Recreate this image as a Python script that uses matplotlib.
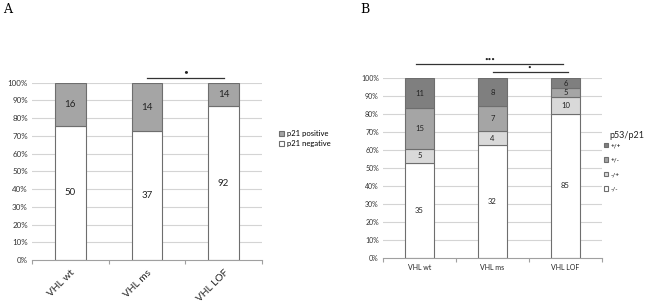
import matplotlib
matplotlib.use("Agg")
import matplotlib.pyplot as plt
import numpy as np

plt.rcParams['font.family'] = ['Lato', 'DejaVu Sans']

# ---- data ----
cats = ["VHL wt", "VHL ms", "VHL LOF"]
a_neg = [50, 37, 92]
a_pos = [16, 14, 14]

b_mm = [35, 32, 85]   # -/-
b_mp = [5, 4, 10]     # -/+
b_pm = [15, 7, 5]     # +/-
b_pp = [11, 8, 6]     # +/+
b_labels = ["-/-", "-/+", "+/-", "+/+"]
yticks = list(range(0, 101, 10))

W, H = 650, 307
fig = plt.figure(figsize=(W / 100, H / 100), dpi=100)

def px_axes(l, r, t, b):
    return fig.add_axes([l / W, 1 - b / H, (r - l) / W, (b - t) / H])

EDGE = "#6e6e6e"
GRID = "#d4d4d4"

def style(ax, fs):
    ax.set_xlim(-0.5, 2.5)
    ax.set_ylim(0, 100)
    ax.set_yticks(yticks)
    ax.set_yticklabels([f"{v}%" for v in yticks], fontsize=fs, color="#333333")
    for y in yticks[1:]:
        ax.axhline(y, color=GRID, lw=0.8, zorder=0)
    for s in ["left", "right", "top"]:
        ax.spines[s].set_visible(False)
    ax.spines["bottom"].set_color("#a0a0a0")
    ax.spines["bottom"].set_linewidth(0.8)
    ax.tick_params(axis="y", length=0, pad=3)
    ax.set_xticks([-0.5, 0.5, 1.5, 2.5], minor=True)
    ax.tick_params(axis="x", which="minor", length=3, color="#a0a0a0", width=0.8)
    ax.tick_params(axis="x", which="major", length=0)

# ---- Panel A ----
axA = px_axes(32, 262, 82.7, 260)
x = np.arange(len(cats))
tot_a = np.array(a_neg) + np.array(a_pos)
neg_p = np.array(a_neg) / tot_a * 100
pos_p = np.array(a_pos) / tot_a * 100
bw = 0.4
axA.bar(x, neg_p, bw, color="white", edgecolor=EDGE, lw=0.8, zorder=2, label="p21 negative")
axA.bar(x, pos_p, bw, bottom=neg_p, color="#a5a5a5", edgecolor=EDGE, lw=0.8, zorder=2, label="p21 positive")
for i in range(len(cats)):
    axA.text(x[i], neg_p[i] / 2, str(a_neg[i]), ha="center", va="center", fontsize=7, color="#222222")
    axA.text(x[i], neg_p[i] + pos_p[i] / 2, str(a_pos[i]), ha="center", va="center", fontsize=7, color="#222222")
style(axA, 5.8)
axA.set_xticks(x)
axA.set_xticklabels(cats, rotation=45, ha="right", rotation_mode="anchor", fontsize=7.3, color="#222222")
axA.tick_params(axis="x", which="major", pad=6)
axA.plot([1, 2], [102.6, 102.6], color="#333333", lw=0.9, clip_on=False)
axA.text(1.5, 106.0, "•", ha="center", va="center", fontsize=6, color="#222222")
hA, lA = axA.get_legend_handles_labels()
fig.legend(hA[::-1], lA[::-1], loc="upper left", bbox_to_anchor=(279 / W, 1 - 130 / H),
           frameon=False, fontsize=5.5, handlelength=0.7, handleheight=0.7, handletextpad=0.3,
           labelspacing=0.45, borderpad=0, borderaxespad=0)

# ---- Panel B ----
axB = px_axes(383, 602, 78, 258)
tot_b = np.array(b_mm) + np.array(b_mp) + np.array(b_pm) + np.array(b_pp)
series = [b_mm, b_mp, b_pm, b_pp]
colors = ["white", "#d9d9d9", "#a5a5a5", "#7f7f7f"]
bottom = np.zeros(3)
bwB = 0.39
handles = []
for vals, col, lab in zip(series, colors, b_labels):
    p = np.array(vals) / tot_b * 100
    h = axB.bar(x, p, bwB, bottom=bottom, color=col, edgecolor=EDGE, lw=0.8, zorder=2, label=lab)
    handles.append(h)
    for i in range(3):
        axB.text(x[i], bottom[i] + p[i] / 2, str(vals[i]), ha="center", va="center", fontsize=5.5, color="#222222")
    bottom += p
style(axB, 5)
axB.set_xticks(x)
axB.set_xticklabels(cats, fontsize=5, color="#222222")
axB.tick_params(axis="x", which="major", pad=4)
axB.plot([-0.05, 1.97], [107.8, 107.8], color="#333333", lw=0.9, clip_on=False)
axB.text(0.96, 110.3, "•••", ha="center", va="center", fontsize=4.5, color="#222222")
axB.plot([1.0, 2.03], [103.3, 103.3], color="#333333", lw=0.9, clip_on=False)
axB.text(1.5, 105.8, "•", ha="center", va="center", fontsize=4.5, color="#222222")
fig.text(609 / W, 1 - 135 / H, "p53/p21", ha="left", va="center", fontsize=6.5, color="#222222")
fig.legend(handles[::-1], b_labels[::-1], loc="upper left",
           bbox_to_anchor=(604 / W, 1 - 143 / H), frameon=False, fontsize=4.5,
           handlelength=0.7, handleheight=0.7, handletextpad=0.3,
           labelspacing=1.45, borderpad=0, borderaxespad=0)

# panel letters
fig.text(3 / W, 1 - 3 / H, "A", ha="left", va="top", fontsize=9, family="DejaVu Serif")
fig.text(360 / W, 1 - 3 / H, "B", ha="left", va="top", fontsize=9, family="DejaVu Serif")

fig.savefig("out.png", dpi=100)
